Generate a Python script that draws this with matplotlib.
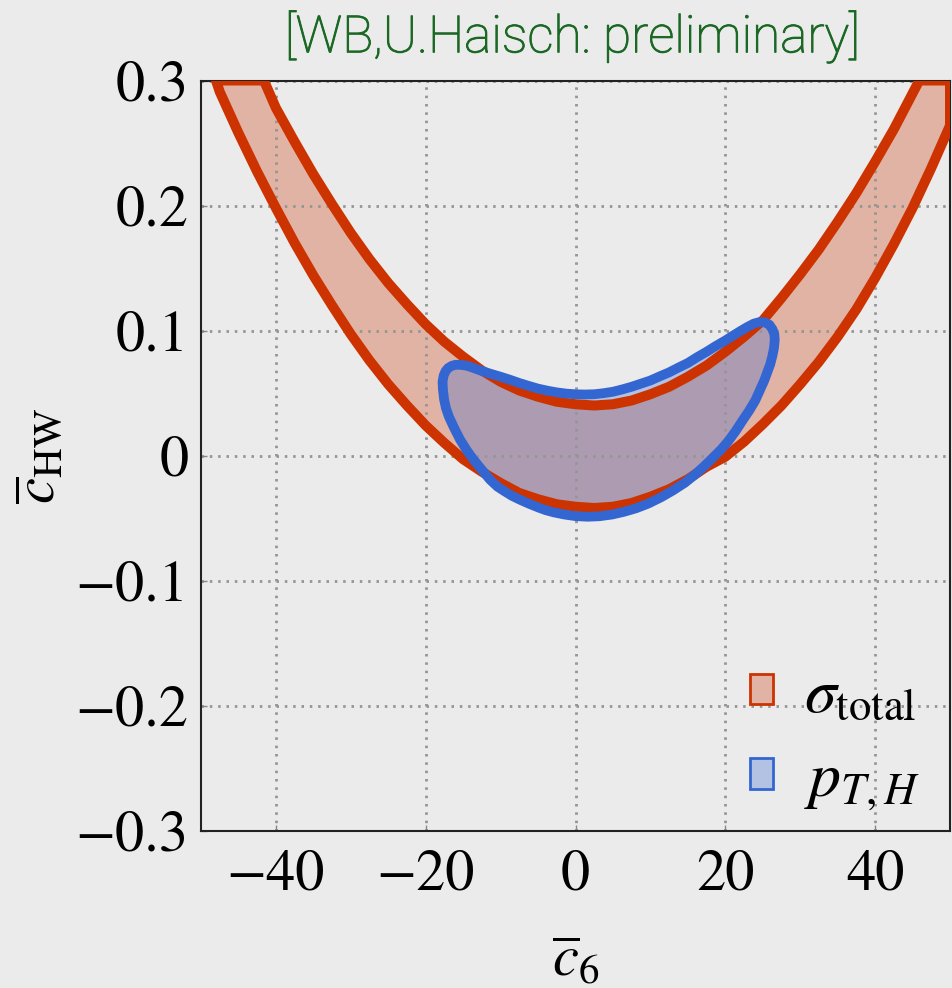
import matplotlib
matplotlib.use("Agg")
import matplotlib.pyplot as plt
import matplotlib.patheffects as pe
from matplotlib.patches import Patch, Polygon

# ---------------- data ----------------
XLIM = (-50, 50)
YLIM = (-0.3, 0.3)
x_ticks = [-40, -20, 0, 20, 40]
x_ticklabels = ["\u221240", "\u221220", "0", "20", "40"]
y_ticks = [-0.3, -0.2, -0.1, 0.0, 0.1, 0.2, 0.3]
y_ticklabels = ["\u22120.3", "\u22120.2", "\u22120.1", "0", "0.1", "0.2", "0.3"]

# sigma_total band: upper boundary
sig_up_x = [-41.6, -40, -37.5, -35, -32.5, -30, -27.5, -25, -22.5, -20, -17.5, -15, -12.5, -10,
            -7.5, -5, -2.5, 0, 2.5, 5, 7.5, 10, 12.5, 15, 17.5, 20, 22.5, 25, 27.5, 30, 32.5,
            35, 37.5, 40, 42.5, 45.9]
sig_up_y = [0.300, 0.278, 0.251, 0.225, 0.201, 0.178, 0.157, 0.138, 0.121, 0.105, 0.091, 0.079,
            0.068, 0.059, 0.052, 0.047, 0.043, 0.041, 0.040, 0.041, 0.044, 0.049, 0.055, 0.063,
            0.072, 0.083, 0.095, 0.108, 0.126, 0.145, 0.165, 0.187, 0.210, 0.235, 0.261, 0.300]
# sigma_total band: lower boundary
sig_lo_x = [-48, -47.5, -45, -42.5, -40, -37.5, -35, -32.5, -30, -27.5, -25, -22.5, -20, -17.5,
            -15, -12.5, -10, -7.5, -5, -2.5, 0, 2.5, 5, 7.5, 10, 12.5, 15, 17.5, 20, 22.5, 25,
            27.5, 30, 32.5, 35, 37.5, 40, 42.5, 45, 47.5, 50]
sig_lo_y = [0.300, 0.291, 0.258, 0.227, 0.198, 0.170, 0.144, 0.120, 0.097, 0.076, 0.057, 0.040,
            0.024, 0.010, -0.003, -0.013, -0.022, -0.030, -0.035, -0.039, -0.041, -0.042, -0.041,
            -0.038, -0.033, -0.027, -0.019, -0.009, -0.001, 0.011, 0.025, 0.040, 0.057, 0.075,
            0.095, 0.117, 0.142, 0.169, 0.198, 0.230, 0.264]

# pT,H contour (closed)
pt_x = [-17.7, -17.75, -17.6, -17.35, -17.0, -16.5, -16.0, -15.3, -14.5, -13.6, -12.7, -11.4,
        -10.0, -8.7, -7.5, -6.2, -5.0, -3.7, -2.5, -1.2, 0.0, 1.2, 2.5, 3.7, 5.0, 6.2, 7.5,
        8.7, 10.0, 11.2, 12.5, 13.7, 15.0, 16.2, 17.5, 18.7, 20.0, 21.0, 22.0, 23.0, 23.8,
        24.6, 25.3, 25.9, 26.3, 26.55, 26.6, 26.5, 26.3, 26.0, 25.6, 25.2, 24.6, 24.0, 23.2,
        22.3, 21.4, 20.4, 19.4, 18.3, 17.2, 16.0, 14.6, 13.0, 11.4, 9.7, 8.1, 6.5, 4.9, 3.2,
        1.6, 0.0, -1.5, -2.9, -4.0, -5.0, -6.2, -7.4, -8.5, -9.5, -10.4, -11.4, -12.5, -13.6,
        -14.5, -15.4, -16.2, -16.9, -17.3, -17.55]
pt_y = [0.053, 0.059, 0.064, 0.0675, 0.0700, 0.0718, 0.0726, 0.0725, 0.0718, 0.0700, 0.0680,
        0.0655, 0.0630, 0.0605, 0.0580, 0.0556, 0.0535, 0.0518, 0.0505, 0.0495, 0.0490, 0.0488,
        0.0490, 0.0498, 0.0510, 0.0528, 0.0550, 0.0574, 0.0600, 0.0632, 0.0665, 0.0702, 0.0740,
        0.0785, 0.0830, 0.0875, 0.0920, 0.0958, 0.0995, 0.1030, 0.1055, 0.1068, 0.1065, 0.1045,
        0.1010, 0.0970, 0.0925, 0.0860, 0.0800, 0.0730, 0.0665, 0.0600, 0.0520, 0.0440, 0.0360,
        0.0280, 0.0197, 0.0115, 0.0045, -0.0020, -0.0085, -0.0150, -0.0218, -0.0280, -0.0335,
        -0.0385, -0.0422, -0.0450, -0.0472, -0.0486, -0.0490, -0.0485, -0.0472, -0.0455,
        -0.0437, -0.0415, -0.0386, -0.0354, -0.0322, -0.0285, -0.0250, -0.0194, -0.0115,
        -0.0034, 0.0040, 0.0126, 0.0220, 0.0310, 0.0380, 0.0450]

labels = [r"$\sigma_{\mathrm{total}}$", r"$p_{T,H}$"]
title_text = "[WB,U.Haisch: preliminary]"

# ---------------- style ----------------
RED = "#cc3300"
BLUE = "#3366d1"
BG = "#ebebeb"
GREEN = "#1a6823"

plt.rcParams["font.family"] = ["STIXGeneral", "DejaVu Serif"]
plt.rcParams["mathtext.fontset"] = "stix"
plt.rcParams["axes.unicode_minus"] = True

fig = plt.figure(figsize=(9.52, 9.88), dpi=100, facecolor=BG)
ax = fig.add_axes([201 / 952, 1 - 830.5 / 988, 749 / 952, 750 / 988])
ax.set_facecolor(BG)

band_x = sig_up_x + [XLIM[1]] + sig_lo_x[::-1]
band_y = sig_up_y + [YLIM[1]] + sig_lo_y[::-1]
band_xy = list(zip(band_x, band_y))
pt_xy = list(zip(pt_x, pt_y))

ax.add_patch(Polygon(band_xy, closed=True, facecolor=RED, alpha=0.3, edgecolor="none", zorder=1))
ax.add_patch(Polygon(pt_xy, closed=True, facecolor=BLUE, alpha=0.3, edgecolor="none", zorder=1.1))
ax.add_patch(Polygon(band_xy, closed=True, facecolor="none", edgecolor=RED, lw=7.2,
                     joinstyle="round", zorder=3))
ax.add_patch(Polygon(pt_xy, closed=True, facecolor="none", edgecolor=BLUE, lw=7.0,
                     joinstyle="round", zorder=3.1))

ax.set_xlim(*XLIM)
ax.set_ylim(*YLIM)
ax.set_xticks(x_ticks)
ax.set_xticklabels(x_ticklabels)
ax.set_yticks(y_ticks)
ax.set_yticklabels(y_ticklabels)
ax.tick_params(axis="both", direction="in", length=4, width=1, color="#888888",
               labelsize=42, labelcolor="black")
ax.tick_params(axis="x", pad=14)
ax.tick_params(axis="y", pad=9)

ax.grid(True, color="#959595", linestyle=(0, (0.9, 2.1)), linewidth=2.0)
for s in ax.spines.values():
    s.set_color("#222222")
    s.set_linewidth(1.5)

ax.set_xlabel(r"$\overline{c}_{6}$", fontsize=42)
ax.set_ylabel(r"$\overline{c}_{\mathrm{HW}}$", fontsize=42)
ax.xaxis.set_label_coords(0.5, -0.14)
ax.yaxis.set_label_coords(-0.178, 0.5)

fig.text(572 / 952, 1 - 37 / 988, title_text, color=GREEN, fontsize=37, fontweight="light",
         family=["Roboto", "Liberation Sans", "DejaVu Sans"], ha="center", va="center",
         path_effects=[pe.withStroke(linewidth=0.7, foreground=GREEN)])

handles = [Patch(facecolor=(0.8, 0.2, 0.0, 0.3), edgecolor=RED, lw=2),
           Patch(facecolor=(0.2, 0.4, 0.82, 0.3), edgecolor=BLUE, lw=2)]
ax.legend(handles, labels, loc="center left", bbox_to_anchor=(749.5 / 952, 1 - 740 / 988),
          bbox_transform=fig.transFigure, frameon=False, fontsize=46, borderpad=0,
          borderaxespad=0, handlelength=0.36, handleheight=0.36, handletextpad=0.5,
          labelspacing=0.4)

fig.savefig("out.png", dpi=100, facecolor=BG)
